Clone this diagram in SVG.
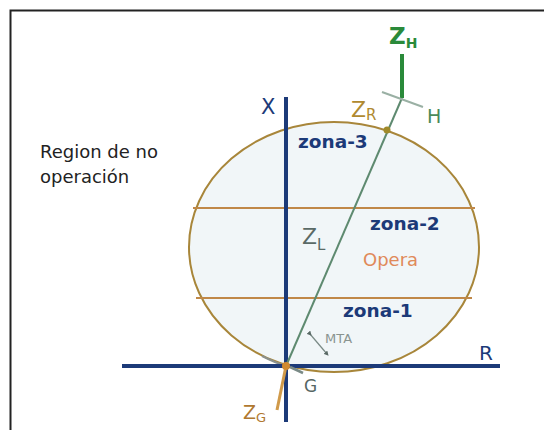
<svg xmlns="http://www.w3.org/2000/svg" width="544" height="430" viewBox="0 0 544 430">
  <style>
    text { font-family: "DejaVu Sans", "Liberation Sans", sans-serif; }
    .zona { fill: #1c3a78; font-size: 18.5px; font-weight: 700; }
    .axis { stroke: #1c3a78; stroke-width: 4; fill: none; }
    .band { stroke: #c08848; stroke-width: 2; }
  </style>
  <defs>
    <marker id="dot" viewBox="0 0 6 6" refX="3" refY="3" markerWidth="4" markerHeight="4" orient="auto">
      <path d="M0,0 L6,3 L0,6 z" fill="#5a6a66"/>
    </marker>
  </defs>
  <rect width="544" height="430" fill="#ffffff"/>
  <path d="M10.5 430 V10.5 H544" fill="none" stroke="#222" stroke-width="2"/>

  <g id="characteristic">
    <ellipse cx="334" cy="247" rx="145" ry="125" fill="#f1f6f8" stroke="#a8863a" stroke-width="2"/>
    <line class="band" x1="193" y1="208" x2="475" y2="208"/>
    <line class="band" x1="196" y1="298" x2="472" y2="298"/>
    <path d="M262 356 Q276 363 286 366" fill="none" stroke="#8a908c" stroke-width="2"/>
  </g>

  <g id="connectors">
    <line class="axis" x1="286" y1="97" x2="286" y2="422"/>
    <line class="axis" x1="122" y1="366" x2="500" y2="366"/>
    <line x1="286" y1="366" x2="402" y2="98" stroke="#5e8a70" stroke-width="2"/>
    <line x1="402" y1="98" x2="402" y2="54" stroke="#2a8a3a" stroke-width="4"/>
    <line x1="382" y1="92" x2="423" y2="107" stroke="#9ab0a4" stroke-width="2"/>
    <line x1="286" y1="366" x2="277" y2="410" stroke="#d09a4a" stroke-width="3"/>
    <line x1="290" y1="367" x2="303" y2="373" stroke="#7a8a86" stroke-width="2.5"/>
    <line x1="310" y1="334" x2="327" y2="354" stroke="#7a8a86" stroke-width="1.2" marker-start="url(#dot)" marker-end="url(#dot)"/>
  </g>

  <g id="point-G">
    <circle cx="286" cy="366" r="4" fill="#d08a30"/>
    <text x="304" y="392" font-size="17" fill="#566664">G</text>
  </g>
  <g id="point-ZR">
    <circle cx="387" cy="130" r="3.5" fill="#a08a2a"/>
    <text x="351" y="117" font-size="22" fill="#b08a30">Z<tspan font-size="15" dy="3">R</tspan></text>
  </g>
  <g id="label-ZH">
    <text x="389" y="44" font-size="23" font-weight="700" fill="#2a8a3a">Z<tspan font-size="14" dy="4">H</tspan></text>
  </g>
  <g id="label-H">
    <text x="427" y="123" font-size="19" fill="#4a8a5a">H</text>
  </g>
  <g id="label-X">
    <text x="261" y="114" font-size="21" fill="#1c3a78">X</text>
  </g>
  <g id="label-R">
    <text x="479" y="360" font-size="20" fill="#1c3a78">R</text>
  </g>
  <g id="label-ZL">
    <text x="302" y="244" font-size="22" fill="#5a6a66">Z<tspan font-size="15" dy="6">L</tspan></text>
  </g>
  <g id="label-ZG">
    <text x="243" y="419" font-size="19" fill="#b07830">Z<tspan font-size="13" dy="3">G</tspan></text>
  </g>
  <g id="label-MTA">
    <text x="325" y="343" font-size="13" fill="#8a9490">MTA</text>
  </g>
  <g id="zona-3"><text class="zona" x="298" y="148">zona-3</text></g>
  <g id="zona-2"><text class="zona" x="370" y="230">zona-2</text></g>
  <g id="opera"><text x="363" y="266" font-size="18" fill="#e08a5a">Opera</text></g>
  <g id="zona-1"><text class="zona" x="343" y="317">zona-1</text></g>
  <g id="region">
    <text x="40" y="158" font-size="18" fill="#222">Region de no</text>
    <text x="40" y="183" font-size="18" fill="#222">operación</text>
  </g>
</svg>
